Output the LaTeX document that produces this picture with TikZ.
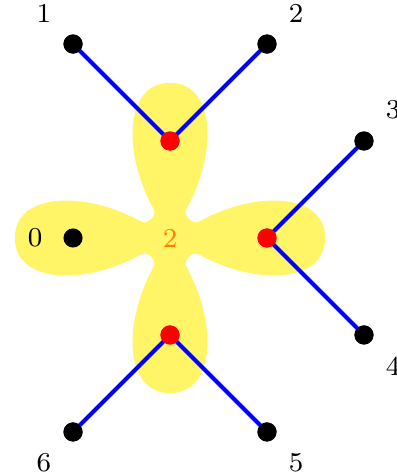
\documentclass[tikz,border=0pt]{standalone}
\usepackage{tikz}
\usetikzlibrary{positioning}
\definecolor{lobeFill}{HTML}{FFF566}
\definecolor{edgeBlue}{HTML}{0000FF}
\definecolor{hubRed}{HTML}{FF0000}
\definecolor{midOrange}{HTML}{FF8000}
\begin{document}
\begin{tikzpicture}[every node/.style={font=\footnotesize},
    vtx/.style={circle,fill=black,inner sep=0pt,minimum size=5.6pt},
    hub/.style={circle,fill=hubRed,inner sep=0pt,minimum size=5.6pt},
    lbl/.style={inner sep=0pt,font=\footnotesize},
    every label/.style={lbl},
    label distance=5.8pt,
    link/.style={draw=edgeBlue,line width=1.2pt}]
        \useasboundingbox (-1.753,-2.454) rectangle (2.340,2.454);
        % yellow clover
        \foreach \r in {0,90,180,270}
          \fill[lobeFill,rotate=\r]
              (-0.17,0.3) .. controls (-0.5,0.9) and (-0.46,1.6) .. (0,1.6)
              .. controls (0.46,1.6) and (0.5,0.9) .. (0.17,0.3)
              .. controls (0.13,0.23) and (0.23,0.13) .. (0.3,0.17)
              -- (0,0) -- cycle;
        \node[text=midOrange] (mid) at (0,0) {2};
        % hubs and leaves
        \node[hub] (hTop) at (0,1) {};
        \node[hub] (hRight) at (1,0) {};
        \node[hub] (hBottom) at (0,-1) {};
        \node[vtx,label=180:0] (v0) at (-1,0) {};
        \node[vtx,label=135:1] (v1) at (-1,2) {};
        \node[vtx,label=45:2] (v2) at (1,2) {};
        \node[vtx,label=45:3] (v3) at (2,1) {};
        \node[vtx,label=-45:4] (v4) at (2,-1) {};
        \node[vtx,label=-45:5] (v5) at (1,-2) {};
        \node[vtx,label=-135:6] (v6) at (-1,-2) {};
        \draw[link] (hTop.center) -- (v1.center) (hTop.center) -- (v2.center);
        \draw[link] (hRight.center) -- (v3.center) (hRight.center) -- (v4.center);
        \draw[link] (hBottom.center) -- (v5.center) (hBottom.center) -- (v6.center);
        \foreach \n in {hTop,hRight,hBottom}
          \fill[hubRed] (\n) circle (2.8pt);
        \foreach \n in {v1,v2,v3,v4,v5,v6}
          \fill[black] (\n) circle (2.8pt);
      \end{tikzpicture}
\end{document}
